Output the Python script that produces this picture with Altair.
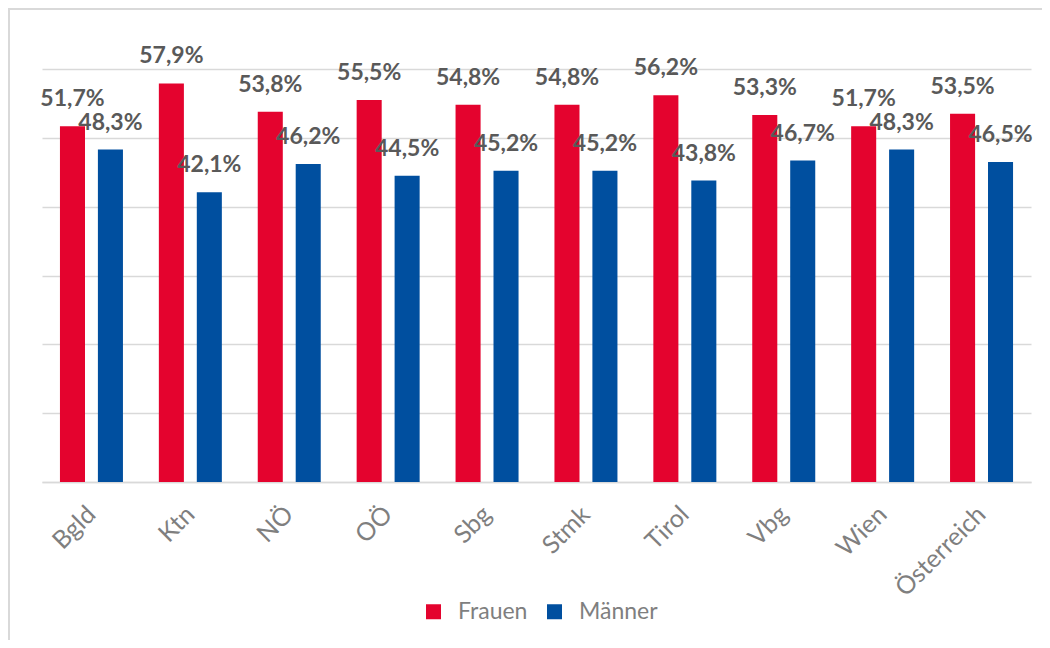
import altair as alt
import pandas as pd

regions = ["Bgld", "Ktn", "NÖ", "OÖ", "Sbg", "Stmk", "Tirol", "Vbg", "Wien", "Österreich"]
frauen = [51.7, 57.9, 53.8, 55.5, 54.8, 54.8, 56.2, 53.3, 51.7, 53.5]
maenner = [48.3, 42.1, 46.2, 44.5, 45.2, 45.2, 43.8, 46.7, 48.3, 46.5]
series = ["Frauen", "Männer"]
colors = ["#E4032E", "#004F9F"]

rows = []
for r, f, m in zip(regions, frauen, maenner):
    rows.append({"Region": r, "Geschlecht": series[0], "Wert": f})
    rows.append({"Region": r, "Geschlecht": series[1], "Wert": m})
df = pd.DataFrame(rows)
df["Label"] = df["Wert"].map(lambda v: f"{v:.1f}".replace(".", ",") + "%")

FONT = "Lato"

x = alt.X(
    "Region:N",
    sort=regions,
    scale=alt.Scale(paddingInner=0.363, paddingOuter=0.1815),
    axis=alt.Axis(
        title=None, labelAngle=-45, labelAlign="right", labelBaseline="middle",
        labelFont=FONT, labelFontSize=25, labelColor="#7f7f7f", ticks=False,
        labelPadding=28, domainColor="#d9d9d9", domainWidth=1.5, grid=False,
    ),
)
xo = alt.XOffset("Geschlecht:N", sort=series, scale=alt.Scale(paddingInner=0.34, paddingOuter=0))
y = alt.Y(
    "Wert:Q",
    scale=alt.Scale(domain=[0, 60]),
    axis=alt.Axis(
        title=None, labels=False, ticks=False, domain=False, grid=True,
        gridColor="#d9d9d9", gridWidth=1.5, values=[0, 10, 20, 30, 40, 50, 60],
    ),
)

bars = alt.Chart(df).mark_bar().encode(
    x=x, xOffset=xo, y=y,
    color=alt.Color(
        "Geschlecht:N",
        sort=series,
        scale=alt.Scale(domain=series, range=colors),
        legend=alt.Legend(
            title=None, orient="none", legendX=380, legendY=531, direction="horizontal",
            symbolType="square", symbolSize=225, symbolStrokeWidth=0,
            labelFont=FONT, labelFontSize=23, labelColor="#7f7f7f",
            labelOffset=13, columnPadding=15, padding=0,
        ),
    ),
)

labels = alt.Chart(df).mark_text(
    font=FONT, fontWeight="bold", fontSize=23, color="#595959",
    baseline="alphabetic", align="center", dy=-20,
).encode(x=x, xOffset=xo, y=y, text="Label:N")

border = alt.Chart(pd.DataFrame({"a": [0]})).mark_rect(
    fill=None, stroke="#d9d9d9", strokeWidth=2
).encode(x=alt.value(-33), x2=alt.value(1200), y=alt.value(-60), y2=alt.value(900))

chart = alt.layer(border, bars, labels).properties(
    width=989, height=413,
    padding={"left": 34, "top": 61, "right": 11, "bottom": 158},
    autosize=alt.AutoSizeParams(type="none"),
    background="white",
).configure_view(stroke=None)

chart.save("out.html", embed_options={"renderer": "svg", "actions": False})
